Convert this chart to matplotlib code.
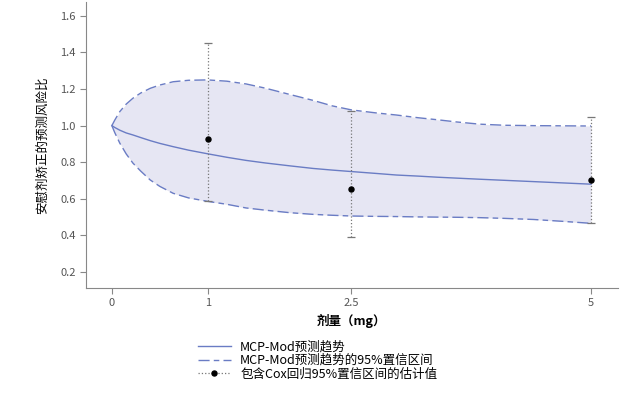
import matplotlib
matplotlib.use("Agg")
import matplotlib.pyplot as plt
from matplotlib.lines import Line2D

plt.rcParams['font.family'] = ['Noto Sans CJK SC', 'DejaVu Sans']

# MCP-Mod trend and its 95% band
dose_curve = [0, 0.03, 0.083, 0.15, 0.22, 0.3, 0.4, 0.5, 0.64, 0.8, 1.0, 1.2, 1.4, 1.6,
              1.86, 2.1, 2.3, 2.5, 2.75, 2.97, 3.2, 3.4, 3.6, 3.84, 4.1, 4.4, 4.7, 5.0]
trend = [1.0, 0.99, 0.975, 0.96, 0.949, 0.935, 0.918, 0.903, 0.885, 0.866, 0.846, 0.827, 0.81, 0.796,
         0.78, 0.766, 0.757, 0.749, 0.739, 0.73, 0.724, 0.718, 0.713, 0.707, 0.701, 0.694, 0.687, 0.68]
upper = [1.0, 1.03, 1.077, 1.118, 1.15, 1.178, 1.204, 1.222, 1.24, 1.248, 1.25, 1.243, 1.228, 1.205,
         1.17, 1.138, 1.108, 1.086, 1.07, 1.058, 1.043, 1.032, 1.02, 1.008, 1.002, 1.0, 0.999, 0.998]
lower = [1.0, 0.962, 0.904, 0.845, 0.795, 0.752, 0.703, 0.668, 0.63, 0.605, 0.586, 0.57, 0.55, 0.538,
         0.524, 0.515, 0.51, 0.506, 0.504, 0.503, 0.501, 0.5, 0.499, 0.497, 0.493, 0.487, 0.477, 0.466]

# Cox regression estimates with 95% CI
dose_pts = [1, 2.5, 5]
est = [0.927, 0.654, 0.703]
ci_lo = [0.588, 0.391, 0.468]
ci_hi = [1.452, 1.08, 1.047]

line_color = "#6a7cc4"
fill_color = "#e6e6f3"
band_dash = (8, 3, 4, 3)

fig = plt.figure(figsize=(6.37, 3.97), dpi=100)
ax = fig.add_axes([0.135, 0.2746, 0.835, 0.7204])

ax.fill_between(dose_curve, lower, upper, color=fill_color, lw=0)
ax.plot(dose_curve, trend, color=line_color, lw=1.0)
ax.plot(dose_curve, upper, color=line_color, lw=1.0, dashes=band_dash)
ax.plot(dose_curve, lower, color=line_color, lw=1.0, dashes=band_dash)

err = [[e - l for e, l in zip(est, ci_lo)], [h - e for e, h in zip(est, ci_hi)]]
eb = ax.errorbar(dose_pts, est, yerr=err, fmt='o', color='black', ms=3.6,
                 ecolor='#777777', elinewidth=0.9, capsize=3, capthick=0.9)
eb[2][0].set_linestyle(':')

ax.set_xlim(-0.27, 5.28)
ax.set_ylim(0.1125, 1.676)
ax.set_xticks([0, 1, 2.5, 5])
ax.set_xticklabels(['0', '1', '2.5', '5'])
ax.set_yticks([0.2, 0.4, 0.6, 0.8, 1.0, 1.2, 1.4, 1.6])
ax.set_yticklabels(['0.2', '0.4', '0.6', '0.8', '1.0', '1.2', '1.4', '1.6'])

for s in ['top', 'right']:
    ax.spines[s].set_visible(False)
for s in ['left', 'bottom']:
    ax.spines[s].set_color('#888888')
ax.tick_params(colors='#888888', labelcolor='#555555', labelsize=8, length=4)

ax.set_xlabel('剂量（mg）', fontsize=9, fontweight='bold', labelpad=4)
ax.set_ylabel('安慰剂矫正的预测风险比', fontsize=9, labelpad=8)

handles = [
    Line2D([], [], color=line_color, lw=1.0),
    Line2D([], [], color=line_color, lw=1.0, dashes=band_dash),
    Line2D([], [], color='#777777', lw=0.9, ls=':', marker='o', ms=3.6,
           markerfacecolor='black', markeredgecolor='black'),
]
labels = ['MCP-Mod预测趋势', 'MCP-Mod预测趋势的95%置信区间', '包含Cox回归95%置信区间的估计值']
fig.legend(handles, labels, loc='upper left', bbox_to_anchor=(192 / 637, 1 - 334 / 397),
           frameon=False, fontsize=9, handlelength=2.6, labelspacing=0.05,
           handletextpad=0.75, borderpad=0)

fig.savefig('out.png', dpi=100)
